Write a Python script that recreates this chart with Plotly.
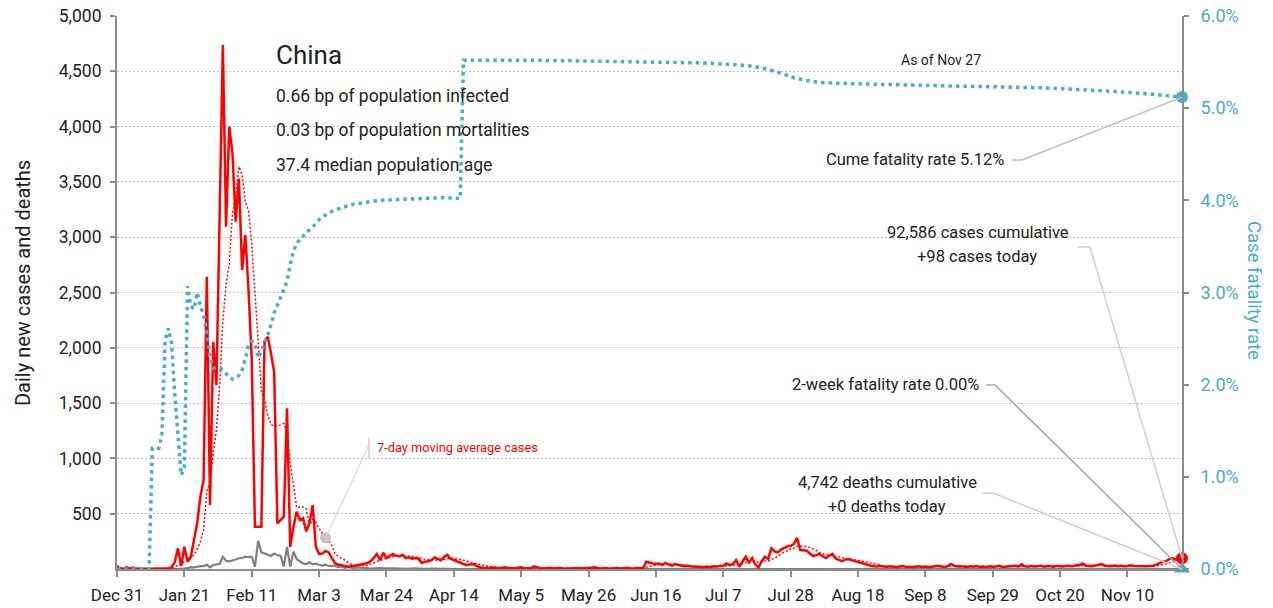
import pandas as pd
import plotly.graph_objects as go

# ---------------- data ----------------
start_date = "2019-12-31"

cases = [
    27, 0, 0, 17, 0, 15, 0, 0, 0, 0,
    0, 0, 0, 0, 0, 0, 4, 17, 60, 187,
    27, 200, 66, 111, 250, 415, 654, 805, 2643, 579,
    2055, 1663, 3200, 4738, 3095, 3999, 3761, 3140, 3530, 2703,
    3020, 2522, 1900, 382, 382, 382, 2055, 2100, 1950, 1780,
    413, 440, 473, 1453, 200, 380, 518, 443, 460, 340,
    415, 578, 200, 136, 140, 163, 150, 99, 50, 40,
    36, 28, 20, 25, 30, 32, 35, 45, 54, 70,
    99, 136, 80, 148, 99, 120, 136, 120, 115, 128,
    99, 105, 93, 100, 93, 54, 66, 70, 80, 105,
    90, 80, 110, 128, 93, 80, 66, 60, 45, 36,
    40, 45, 30, 15, 12, 10, 8, 14, 10, 6,
    11, 16, 8, 5, 7, 12, 15, 6, 10, 9,
    24, 14, 8, 5, 6, 11, 4, 7, 10, 3,
    5, 8, 6, 12, 9, 4, 7, 6, 11, 16,
    8, 5, 9, 6, 3, 7, 10, 5, 8, 12,
    6, 4, 9, 11, 7, 66, 55, 50, 45, 50,
    35, 55, 40, 30, 45, 35, 30, 25, 28, 22,
    20, 18, 22, 15, 20, 18, 25, 22, 28, 30,
    50, 35, 45, 80, 20, 70, 111, 60, 100, 40,
    15, 70, 111, 90, 187, 160, 150, 175, 190, 205,
    210, 226, 283, 172, 170, 166, 140, 117, 125, 136,
    115, 100, 120, 136, 95, 80, 72, 85, 90, 80,
    72, 60, 50, 45, 36, 30, 25, 22, 28, 20,
    18, 24, 20, 16, 22, 26, 18, 20, 15, 21,
    25, 19, 22, 17, 20, 24, 30, 22, 18, 26,
    45, 28, 22, 25, 20, 18, 24, 21, 26, 19,
    22, 17, 25, 20, 23, 28, 19, 22, 26, 24,
    30, 22, 42, 25, 20, 27, 22, 24, 30, 21,
    26, 24, 20, 28, 25, 22, 30, 27, 24, 33,
    35, 50, 30, 28, 26, 32, 40, 45, 30, 28,
    26, 31, 25, 30, 24, 28, 33, 27, 25, 22,
    26, 24, 28, 30, 40, 55, 66, 70, 90, 98,
    85, 111, 98,
]

deaths = [
    0, 0, 0, 0, 0, 0, 0, 0, 0, 0,
    0, 1, 0, 0, 0, 0, 0, 0, 0, 1,
    3, 3, 8, 16, 15, 24, 26, 26, 38, 14,
    36, 42, 46, 111, 75, 70, 75, 86, 97, 100,
    111, 108, 112, 21, 256, 150, 140, 130, 118, 140,
    125, 120, 21, 200, 21, 157, 90, 70, 50, 45,
    60, 42, 50, 38, 31, 40, 28, 27, 30, 17,
    22, 11, 18, 13, 10, 14, 13, 11, 8, 3,
    7, 6, 9, 7, 4, 6, 5, 3, 5, 4,
    1, 1, 6, 4, 3, 4, 2, 1, 3, 2,
    1, 1, 2, 1, 0, 0, 1, 0, 0, 0,
    0, 0, 1, 0, 0, 0, 0, 0, 0, 0,
    0, 0, 0, 0, 0, 1, 0, 0, 0, 0,
    0, 0, 0, 0, 0, 0, 0, 0, 0, 0,
    0, 0, 0, 0, 0, 0, 0, 0, 0, 0,
    0, 0, 0, 0, 0, 0, 0, 0, 0, 0,
    0, 0, 0, 0, 0, 0, 0, 0, 0, 0,
    0, 0, 0, 0, 0, 0, 0, 0, 0, 0,
    0, 0, 0, 0, 0, 0, 0, 0, 0, 0,
    0, 0, 0, 0, 0, 0, 0, 0, 0, 0,
    0, 0, 0, 0, 0, 0, 0, 0, 0, 0,
    0, 0, 0, 0, 0, 0, 0, 0, 0, 0,
    0, 0, 0, 0, 0, 0, 0, 0, 0, 0,
    0, 0, 0, 0, 0, 0, 0, 0, 0, 0,
    0, 0, 0, 0, 0, 0, 0, 0, 0, 0,
    0, 0, 0, 0, 0, 0, 0, 0, 0, 0,
    0, 0, 0, 0, 0, 0, 0, 0, 0, 0,
    0, 0, 0, 0, 0, 0, 0, 0, 0, 0,
    0, 0, 0, 0, 0, 0, 0, 0, 0, 0,
    0, 0, 0, 0, 0, 0, 0, 0, 0, 0,
    0, 0, 0, 0, 0, 0, 0, 0, 0, 0,
    0, 0, 0, 0, 0, 0, 0, 0, 0, 0,
    0, 0, 0, 0, 0, 0, 0, 0, 0, 0,
    0, 0, 0,
]

cfr_dates = [
    "2019-12-31", "2020-01-10", "2020-01-11", "2020-01-12", "2020-01-13",
    "2020-01-14", "2020-01-15", "2020-01-16", "2020-01-17", "2020-01-18",
    "2020-01-19", "2020-01-20", "2020-01-21", "2020-01-22", "2020-01-23",
    "2020-01-24", "2020-01-25", "2020-01-26", "2020-01-27", "2020-01-28",
    "2020-01-29", "2020-01-30", "2020-01-31", "2020-02-01", "2020-02-02",
    "2020-02-03", "2020-02-04", "2020-02-05", "2020-02-06", "2020-02-07",
    "2020-02-08", "2020-02-09", "2020-02-10", "2020-02-11", "2020-02-12",
    "2020-02-13", "2020-02-14", "2020-02-15", "2020-02-16", "2020-02-17",
    "2020-02-18", "2020-02-19", "2020-02-20", "2020-02-21", "2020-02-22",
    "2020-02-23", "2020-02-24", "2020-02-25", "2020-02-26", "2020-02-27",
    "2020-02-28", "2020-02-29", "2020-03-01", "2020-03-02", "2020-03-03",
    "2020-03-05", "2020-03-07", "2020-03-10", "2020-03-14", "2020-03-18",
    "2020-03-22", "2020-03-28", "2020-04-05", "2020-04-12", "2020-04-16",
    "2020-04-17", "2020-05-10", "2020-06-01", "2020-06-20", "2020-07-01",
    "2020-07-12", "2020-07-17", "2020-07-21", "2020-07-25", "2020-07-29",
    "2020-08-02", "2020-08-06", "2020-08-11", "2020-08-23", "2020-09-01",
    "2020-09-17", "2020-10-02", "2020-10-15", "2020-10-27", "2020-11-02",
    "2020-11-11", "2020-11-18", "2020-11-24", "2020-11-27",
]
cfr_pct = [
    0.00, 0.00, 1.31, 1.31, 1.31,
    1.45, 2.48, 2.61, 2.45, 1.90,
    1.40, 1.02, 1.10, 3.07, 2.85,
    2.82, 3.00, 2.85, 2.76, 2.56,
    2.30, 2.18, 2.18, 2.18, 2.16,
    2.12, 2.08, 2.06, 2.07, 2.10,
    2.16, 2.28, 2.42, 2.47, 2.45,
    2.29, 2.36, 2.46, 2.54, 2.65,
    2.78, 2.86, 2.94, 3.02, 3.12,
    3.30, 3.45, 3.53, 3.58, 3.61,
    3.65, 3.68, 3.71, 3.75, 3.79,
    3.84, 3.88, 3.92, 3.96, 3.98,
    4.00, 4.01, 4.02, 4.03, 4.02,
    5.52, 5.52, 5.51, 5.50, 5.49,
    5.47, 5.45, 5.42, 5.38, 5.33,
    5.30, 5.28, 5.27, 5.26, 5.25,
    5.24, 5.23, 5.22, 5.20, 5.19,
    5.17, 5.15, 5.13, 5.12,
]
two_week_cfr = 0.0

y_left_ticks = [500, 1000, 1500, 2000, 2500, 3000, 3500, 4000, 4500, 5000]
y_right_ticks = [0, 1, 2, 3, 4, 5, 6]

title_text = "China"
info_lines = ["0.66 bp of population infected",
              "0.03 bp of population mortalities",
              "37.4 median population age"]

# ---------------- styling ----------------
FONT = "Roboto, Liberation Sans Narrow, sans-serif"
TEAL = "#4bacc6"
RED = "#ff0000"
GREY = "#808080"
AXIS = "#8c8c8c"
TXT = "#222222"

W, H = 1273, 608
L, R, T, B = 117, 91, 16, 39
PW, PH = W - L - R, H - T - B


def px(x):
    return (x - L) / PW


def py(y):
    return (H - B - y) / PH


dates = pd.date_range(start_date, periods=len(cases), freq="D")
ma7 = pd.Series(cases).rolling(7, min_periods=1).mean()
n_days = len(cases) - 1

fig = go.Figure()
fig.add_trace(go.Scatter(x=cfr_dates, y=cfr_pct, yaxis="y2", mode="lines",
                         line=dict(color=TEAL, width=3.5, dash="3.5px,4px"),
                         hoverinfo="skip", showlegend=False))
fig.add_trace(go.Scatter(x=dates, y=deaths, mode="lines",
                         line=dict(color=GREY, width=2.2), showlegend=False))
fig.add_trace(go.Scatter(x=dates, y=ma7, mode="lines",
                         line=dict(color=RED, width=1.5, dash="2px,2px"),
                         showlegend=False))
fig.add_trace(go.Scatter(x=dates, y=cases, mode="lines",
                         line=dict(color=RED, width=2.5), showlegend=False))

ma_idx = 65
fig.add_trace(go.Scatter(x=[dates[ma_idx]], y=[ma7[ma_idx]], mode="markers",
                         marker=dict(color="#c4c4c4", size=11), showlegend=False))
fig.add_trace(go.Scatter(x=[dates[-1]], y=[cases[-1]], mode="markers",
                         marker=dict(color=RED, size=12), cliponaxis=False,
                         showlegend=False))
fig.add_trace(go.Scatter(x=[dates[-1]], y=[cfr_pct[-1]], yaxis="y2", mode="markers",
                         marker=dict(color=TEAL, size=12), cliponaxis=False,
                         showlegend=False))
fig.add_trace(go.Scatter(x=[dates[-1]], y=[two_week_cfr], yaxis="y2", mode="markers",
                         marker=dict(color=TEAL, size=14, symbol="triangle-up"),
                         cliponaxis=False, showlegend=False))

# connector lines (paper coords)
end_x = 1.0
cume_y = cfr_pct[-1] / 6
case_y = cases[-1] / 5000
zero_y = 0.0
ma_x = ma_idx / n_days
ma_y = ma7[ma_idx] / 5000

shapes = [
    dict(type="path", xref="paper", yref="paper",
         path=f"M {px(1012)},{py(160)} L {px(1022)},{py(160)} L {end_x},{cume_y}",
         line=dict(color="#bdbdbd", width=1.5)),
    dict(type="path", xref="paper", yref="paper",
         path=f"M {px(1078)},{py(247)} L {px(1090)},{py(247)} L {end_x},{case_y}",
         line=dict(color="#d0d0d0", width=1.5)),
    dict(type="path", xref="paper", yref="paper",
         path=f"M {px(986)},{py(385)} L {px(995)},{py(385)} L {end_x},{zero_y}",
         line=dict(color="#a6a6a6", width=1.5)),
    dict(type="path", xref="paper", yref="paper",
         path=f"M {px(983)},{py(493)} L {px(993)},{py(493)} L {end_x},{zero_y}",
         line=dict(color="#d0d0d0", width=1.5)),
    dict(type="line", xref="paper", yref="paper",
         x0=px(369), y0=py(437), x1=px(369), y1=py(459),
         line=dict(color="#d0d0d0", width=1.5)),
    dict(type="line", xref="paper", yref="paper",
         x0=px(369), y0=py(445), x1=ma_x, y1=ma_y,
         line=dict(color="#d0d0d0", width=1)),
]


def ann(text, x, y, size=16.5, color=TXT, xanchor="left", angle=0):
    return dict(text=text, x=px(x), y=py(y), xref="paper", yref="paper",
                showarrow=False, xanchor=xanchor, yanchor="middle",
                textangle=angle, font=dict(family=FONT, size=size, color=color))


annotations = [
    ann(title_text, 274, 55, size=26),
    ann(info_lines[0], 274, 96, size=17.5),
    ann(info_lines[1], 274, 130, size=17.5),
    ann(info_lines[2], 274, 165, size=17.5),
    ann("As of Nov 27", 941, 60, size=14, xanchor="center"),
    ann(f"Cume fatality rate {cfr_pct[-1]:.2f}%", 1006, 160, xanchor="right"),
    ann("92,586 cases cumulative", 978, 232, xanchor="center"),
    ann(f"+{cases[-1]} cases today", 977, 256, xanchor="center"),
    ann(f"2-week fatality rate {two_week_cfr:.2f}%", 981, 384, xanchor="right"),
    ann("4,742 deaths cumulative", 887, 482, xanchor="center"),
    ann(f"+{deaths[-1]} deaths today", 887, 506, xanchor="center"),
    ann("7-day moving average cases", 375, 447, size=12.8, color=RED),
    ann("Daily new cases and deaths", 23, 283, size=20, xanchor="center", angle=-90),
    ann("Case fatality rate", 1254, 290, size=18.5, color=TEAL, xanchor="center", angle=90),
]

fig.update_layout(
    width=W, height=H,
    margin=dict(l=L, r=R, t=T, b=B, pad=0, autoexpand=False),
    paper_bgcolor="white", plot_bgcolor="white",
    font=dict(family=FONT, size=17, color=TXT),
    showlegend=False,
    hovermode=False,
    shapes=shapes,
    annotations=annotations,
    xaxis=dict(
        type="date", automargin=False,
        range=[dates[0], dates[-1]],
        tick0=start_date, dtick=21 * 86400000,
        tickformat="%b %-d",
        showgrid=False, zeroline=False,
        showline=True, linecolor=AXIS, linewidth=2,
        ticks="outside", ticklen=6, tickcolor=AXIS, tickwidth=1.5,
        ticklabelstandoff=4,
        tickfont=dict(family=FONT, size=17, color=TXT),
    ),
    yaxis=dict(
        range=[0, 5000], automargin=False,
        tickvals=y_left_ticks, tickformat=",",
        showgrid=True, gridcolor="#bdbdbd", griddash="2px,2px", gridwidth=1,
        zeroline=False,
        showline=True, linecolor=AXIS, linewidth=2,
        ticks="outside", ticklen=5, tickcolor=AXIS, tickwidth=1.5,
        ticklabelstandoff=5,
        tickfont=dict(family=FONT, size=17.5, color=TXT),
    ),
    yaxis2=dict(
        range=[0, 6], overlaying="y", side="right", automargin=False,
        tickmode="array", tickvals=y_right_ticks,
        ticktext=[f"{v:.1f}%" for v in y_right_ticks],
        showgrid=False, zeroline=False,
        showline=True, linecolor=AXIS, linewidth=2,
        ticks="outside", ticklen=5, tickcolor=AXIS, tickwidth=1.5,
        ticklabelstandoff=8,
        tickfont=dict(family=FONT, size=18, color=TEAL),
    ),
)

fig.write_html("out.html", config={"displayModeBar": False},
               post_script="document.body.style.margin='0px';")
